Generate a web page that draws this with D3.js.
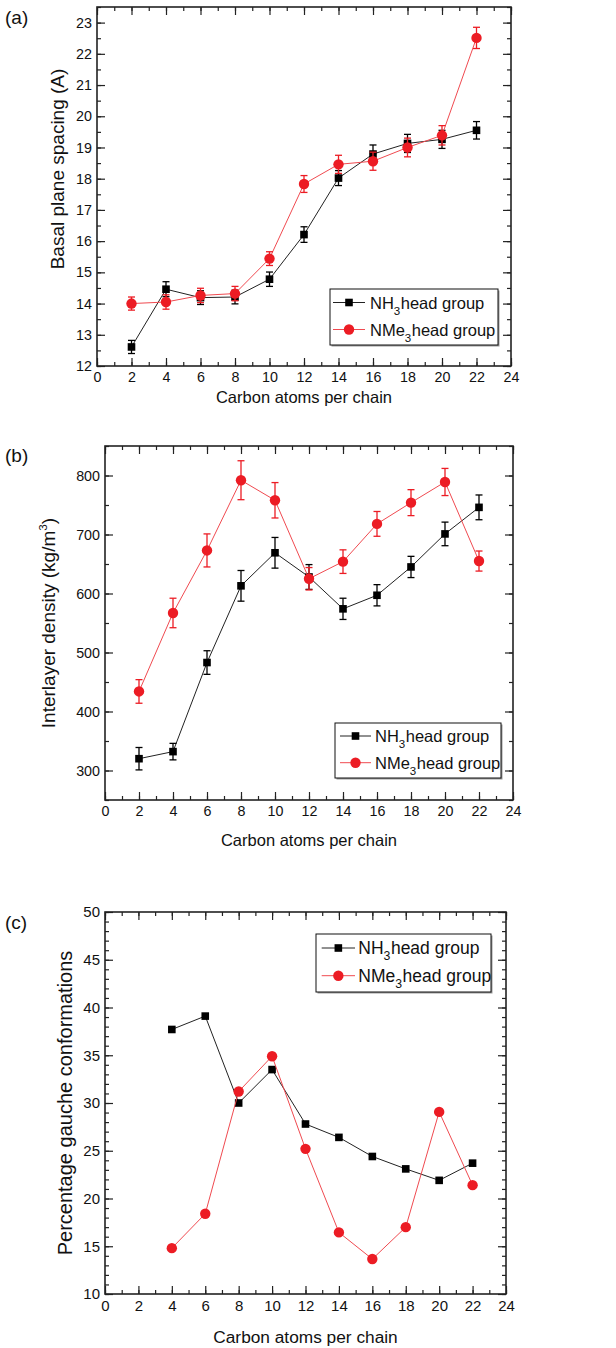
<!DOCTYPE html>
<html>
<head>
<meta charset="utf-8">
<script src="https://cdn.jsdelivr.net/npm/d3@7/dist/d3.min.js"></script>
<style>
  body { margin: 0; background: #fff; }
  svg text { font-family: "Liberation Sans", Arial, sans-serif; fill: #111; }
</style>
</head>
<body>
<div id="svganchor"></div>
<script>
// ---- data ----
var carbons = [2, 4, 6, 8, 10, 12, 14, 16, 18, 20, 22];
var gaucheCarbons = [4, 6, 8, 10, 12, 14, 16, 18, 20, 22];

// (a) basal plane spacing
var spacingNH3 = [12.61, 14.46, 14.19, 14.21, 14.78, 16.21, 18.02, 18.79, 19.13, 19.26, 19.55];
var spacingNH3Err = [0.21, 0.24, 0.22, 0.22, 0.23, 0.25, 0.24, 0.29, 0.29, 0.29, 0.28];
var spacingNMe3 = [14.0, 14.05, 14.26, 14.32, 15.44, 17.83, 18.46, 18.56, 19.0, 19.39, 22.51];
var spacingNMe3Err = [0.21, 0.23, 0.23, 0.23, 0.22, 0.27, 0.29, 0.29, 0.3, 0.31, 0.34];

// (b) interlayer density
var densityNH3 = [320, 332, 483, 613, 669, 628, 574, 597, 645, 701, 746];
var densityNH3Err = [19, 14, 20, 26, 26, 21, 18, 18, 18, 20, 21];
var densityNMe3 = [434, 567, 673, 792, 758, 625, 654, 718, 754, 789, 655];
var densityNMe3Err = [20, 25, 28, 33, 30, 19, 20, 21, 22, 23, 17];

// (c) percentage gauche conformations
var gaucheNH3 = [37.7, 39.1, 30.0, 33.5, 27.8, 26.4, 24.4, 23.1, 21.9, 23.7];
var gaucheNMe3 = [14.8, 18.4, 31.2, 34.9, 25.2, 16.45, 13.66, 17.0, 29.07, 21.4];

// tick labels
var xTicks = [0, 2, 4, 6, 8, 10, 12, 14, 16, 18, 20, 22, 24];
var spacingTicks = [12, 13, 14, 15, 16, 17, 18, 19, 20, 21, 22, 23];
var densityTicks = [300, 400, 500, 600, 700, 800];
var gaucheTicks = [10, 15, 20, 25, 30, 35, 40, 45, 50];

var legendNames = ["NH", "NMe"];
var xTitle = "Carbon atoms per chain";

var RED = "#ec1c24";
var BLACK = "#000";

var svg = d3.select("#svganchor").append("svg")
  .attr("width", 616)
  .attr("height", 1348);

function zipSeries(xs, ys, errs) {
  return xs.map(function (d, i) {
    return { x: d, y: ys[i], e: errs ? errs[i] : 0 };
  });
}

/*
------------------------
METHOD: draw one panel (frame, ticks on all sides, series, legend)
------------------------
*/
function drawPanel(o) {
  var g = svg.append("g");
  var x = d3.scaleLinear().domain([0, 24]).range([o.left, o.right]);
  var y = d3.scaleLinear().domain(o.yDomain).range([o.bottom, o.top]);
  var w = o.right - o.left, h = o.bottom - o.top;

  var xMinor = d3.range(0, 25, 1);
  var yMinor = d3.range(o.yDomain[0], o.yDomain[1] + 1e-9, o.yMinorStep);

  // bottom axis
  g.append("g").attr("transform", "translate(0," + o.bottom + ")")
    .call(d3.axisBottom(x).tickValues(xMinor).tickSize(-4).tickFormat(""))
  g.append("g").attr("class", "xlab").attr("transform", "translate(0," + o.bottom + ")")
    .call(d3.axisBottom(x).tickValues(xTicks).tickSize(-8).tickPadding(o.tickPadX));
  // top axis
  g.append("g").attr("transform", "translate(0," + o.top + ")")
    .call(d3.axisTop(x).tickValues(xMinor).tickSize(-4).tickFormat(""));
  g.append("g").attr("transform", "translate(0," + o.top + ")")
    .call(d3.axisTop(x).tickValues(xTicks).tickSize(-8).tickFormat(""));
  // left axis
  g.append("g").attr("transform", "translate(" + o.left + ",0)")
    .call(d3.axisLeft(y).tickValues(yMinor).tickSize(-4).tickFormat(""));
  g.append("g").attr("class", "ylab").attr("transform", "translate(" + o.left + ",0)")
    .call(d3.axisLeft(y).tickValues(o.yTicks).tickSize(-8).tickPadding(5));
  // right axis
  g.append("g").attr("transform", "translate(" + o.right + ",0)")
    .call(d3.axisRight(y).tickValues(yMinor).tickSize(-4).tickFormat(""));
  g.append("g").attr("transform", "translate(" + o.right + ",0)")
    .call(d3.axisRight(y).tickValues(o.yTicks).tickSize(-8).tickFormat(""));

  g.selectAll(".domain").remove();
  g.selectAll(".tick line").attr("stroke", "#222").attr("stroke-width", 1.2);
  g.selectAll(".tick text")
    .style("font-family", '"Liberation Sans", Arial, sans-serif')
    .style("font-size", o.tickFont + "px")
    .attr("fill", "#111");

  // frame
  g.append("rect")
    .attr("x", o.left).attr("y", o.top)
    .attr("width", w).attr("height", h)
    .attr("fill", "none").attr("stroke", "#222").attr("stroke-width", 1.6);

  // axis titles
  g.append("text")
    .attr("x", (o.left + o.right) / 2)
    .attr("y", o.xTitleY)
    .attr("text-anchor", "middle")
    .style("font-size", o.titleFont + "px")
    .text(xTitle);

  var cy = o.yTitleCY || (o.top + o.bottom) / 2;
  var yt = g.append("text")
    .attr("transform", "translate(" + o.yTitleX + "," + cy + ") rotate(-90)")
    .attr("text-anchor", "middle")
    .style("font-size", o.yTitleFont + "px");
  yt.append("tspan").text(o.yTitle);
  if (o.yTitleSup) {
    yt.append("tspan").attr("dy", -8).style("font-size", (o.yTitleFont * 0.62) + "px").text(o.yTitleSup);
    yt.append("tspan").attr("dy", 8).text(")");
  }

  // panel letter
  g.append("text")
    .attr("x", 5).attr("y", o.letterY)
    .style("font-size", "19px")
    .text(o.letter);

  var line = d3.line()
    .x(function (d) { return x(d.x); })
    .y(function (d) { return y(d.y); });

  o.series.forEach(function (s) {
    var sg = g.append("g");
    sg.append("path")
      .datum(s.values)
      .attr("d", line)
      .attr("fill", "none")
      .attr("stroke", s.lineColor)
      .attr("stroke-width", 1);

    if (s.errors) {
      var eb = sg.selectAll(".err").data(s.values).enter().append("g")
        .attr("stroke", s.color).attr("stroke-width", 1.3);
      eb.append("line")
        .attr("x1", function (d) { return x(d.x); })
        .attr("x2", function (d) { return x(d.x); })
        .attr("y1", function (d) { return y(d.y - d.e); })
        .attr("y2", function (d) { return y(d.y + d.e); });
      eb.append("line")
        .attr("x1", function (d) { return x(d.x) - 3.5; })
        .attr("x2", function (d) { return x(d.x) + 3.5; })
        .attr("y1", function (d) { return y(d.y + d.e); })
        .attr("y2", function (d) { return y(d.y + d.e); });
      eb.append("line")
        .attr("x1", function (d) { return x(d.x) - 3.5; })
        .attr("x2", function (d) { return x(d.x) + 3.5; })
        .attr("y1", function (d) { return y(d.y - d.e); })
        .attr("y2", function (d) { return y(d.y - d.e); });
    }

    if (s.marker === "square") {
      sg.selectAll(".pt").data(s.values).enter().append("rect")
        .attr("x", function (d) { return x(d.x) - 3.8; })
        .attr("y", function (d) { return y(d.y) - 3.8; })
        .attr("width", 7.6).attr("height", 7.6)
        .attr("fill", s.color);
    } else {
      sg.selectAll(".pt").data(s.values).enter().append("circle")
        .attr("cx", function (d) { return x(d.x); })
        .attr("cy", function (d) { return y(d.y); })
        .attr("r", 5.2)
        .attr("fill", s.color);
    }
  });

  // legend
  var L = o.legend;
  var lg = g.append("g");
  lg.append("rect")
    .attr("x", L.x + 1.5).attr("y", L.y + 1.5)
    .attr("width", L.w).attr("height", L.h)
    .attr("fill", "#999");
  lg.append("rect")
    .attr("x", L.x).attr("y", L.y)
    .attr("width", L.w).attr("height", L.h)
    .attr("fill", "#fff").attr("stroke", "#111").attr("stroke-width", 1);

  o.series.forEach(function (s, i) {
    var ry = L.y + L.row0 + i * L.rowGap;
    lg.append("line")
      .attr("x1", L.x + L.lineX0).attr("x2", L.x + L.lineX1)
      .attr("y1", ry).attr("y2", ry)
      .attr("stroke", s.lineColor).attr("stroke-width", 1);
    var mx = L.x + (L.lineX0 + L.lineX1) / 2;
    if (s.marker === "square") {
      lg.append("rect").attr("x", mx - 3.8).attr("y", ry - 3.8)
        .attr("width", 7.6).attr("height", 7.6).attr("fill", s.color);
    } else {
      lg.append("circle").attr("cx", mx).attr("cy", ry).attr("r", 5.2).attr("fill", s.color);
    }
    var t = lg.append("text")
      .attr("x", L.x + L.textX).attr("y", ry + 6)
      .style("font-size", L.font + "px");
    t.append("tspan").text(s.name);
    t.append("tspan").attr("dy", 6).style("font-size", (L.font * 0.7) + "px").text("3");
    t.append("tspan").attr("dy", -6).attr("dx", 0.5).text("head group");
  });
}

// (a)
drawPanel({
  letter: "(a)", letterY: 23.5,
  left: 97, right: 511, top: 7, bottom: 366,
  yDomain: [12, 23.5], yMinorStep: 0.5, yTicks: spacingTicks,
  tickFont: 14.3, tickPadX: 6, titleFont: 16.5, yTitleFont: 19,
  xTitleY: 403, yTitleX: 63.5, yTitleCY: 169, yTitle: "Basal plane spacing (A)",
  series: [
    { name: legendNames[0], marker: "square", color: BLACK, lineColor: "#222", errors: true,
      values: zipSeries(carbons, spacingNH3, spacingNH3Err) },
    { name: legendNames[1], marker: "circle", color: RED, lineColor: "#f04a50", errors: true,
      values: zipSeries(carbons, spacingNMe3, spacingNMe3Err) }
  ],
  legend: { x: 330, y: 289, w: 168, h: 56, row0: 13.5, rowGap: 27, lineX0: 3, lineX1: 35, textX: 40, font: 16.5 }
});

// (b)
drawPanel({
  letter: "(b)", letterY: 462,
  left: 105, right: 513, top: 446, bottom: 800,
  yDomain: [250, 850], yMinorStep: 50, yTicks: densityTicks,
  tickFont: 14.3, tickPadX: 6, titleFont: 16.5, yTitleFont: 19,
  xTitleY: 846, yTitleX: 55, yTitle: "Interlayer density (kg/m", yTitleSup: "3",
  series: [
    { name: legendNames[0], marker: "square", color: BLACK, lineColor: "#222", errors: true,
      values: zipSeries(carbons, densityNH3, densityNH3Err) },
    { name: legendNames[1], marker: "circle", color: RED, lineColor: "#f04a50", errors: true,
      values: zipSeries(carbons, densityNMe3, densityNMe3Err) }
  ],
  legend: { x: 335, y: 723, w: 166, h: 55, row0: 13, rowGap: 26.7, lineX0: 5, lineX1: 36, textX: 40, font: 16.5 }
});

// (c)
drawPanel({
  letter: "(c)", letterY: 929,
  left: 105, right: 506, top: 912, bottom: 1294,
  yDomain: [10, 50], yMinorStep: 1, yTicks: gaucheTicks,
  tickFont: 15, tickPadX: 6, titleFont: 17.3, yTitleFont: 20,
  xTitleY: 1343, yTitleX: 71.5, yTitle: "Percentage gauche conformations",
  series: [
    { name: legendNames[0], marker: "square", color: BLACK, lineColor: "#222", errors: false,
      values: zipSeries(gaucheCarbons, gaucheNH3) },
    { name: legendNames[1], marker: "circle", color: RED, lineColor: "#f04a50", errors: false,
      values: zipSeries(gaucheCarbons, gaucheNMe3) }
  ],
  legend: { x: 316, y: 934, w: 175, h: 58, row0: 14, rowGap: 27.7, lineX0: 5.7, lineX1: 39, textX: 42.3, font: 17.5 }
});
</script>
</body>
</html>
